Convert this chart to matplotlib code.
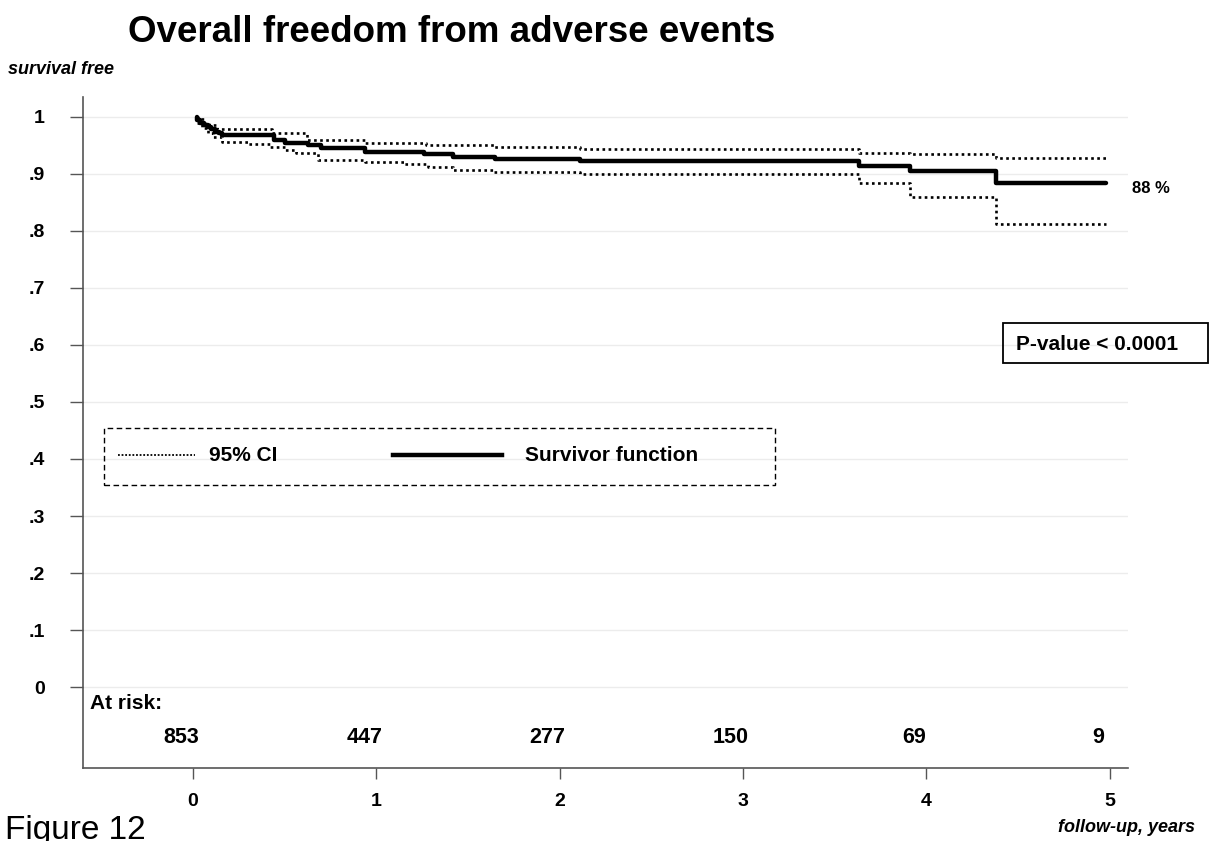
import numpy as np
import matplotlib
matplotlib.use("Agg")
import matplotlib.pyplot as plt
from matplotlib.patches import Rectangle

plt.rcParams['font.family'] = ['Liberation Sans', 'DejaVu Sans']

# Kaplan-Meier step data (value holds from each time to the next)
surv_t = [0, 0.02, 0.04, 0.06, 0.08, 0.10, 0.12, 0.14, 0.16, 0.44, 0.50,
          0.63, 0.70, 0.94, 1.26, 1.42, 1.65, 2.11, 3.63, 3.91, 4.38]
surv_s = [1.0, 0.995, 0.990, 0.986, 0.982, 0.978, 0.974, 0.971, 0.968, 0.960,
          0.954, 0.950, 0.945, 0.939, 0.935, 0.930, 0.926, 0.923, 0.914,
          0.905, 0.884]

upper_t = [0, 0.03, 0.06, 0.09, 0.13, 0.43, 0.62, 0.94, 1.27, 1.64, 2.11,
           3.63, 3.91, 4.38]
upper_s = [1.0, 0.996, 0.990, 0.985, 0.979, 0.972, 0.960, 0.955, 0.951, 0.947,
           0.943, 0.937, 0.935, 0.928]

lower_t = [0, 0.02, 0.05, 0.08, 0.11, 0.16, 0.30, 0.42, 0.50, 0.56, 0.68,
           0.94, 1.15, 1.28, 1.42, 1.64, 2.11, 3.63, 3.91, 4.38]
lower_s = [1.0, 0.990, 0.980, 0.972, 0.964, 0.956, 0.953, 0.947, 0.942, 0.936,
           0.925, 0.921, 0.918, 0.912, 0.907, 0.904, 0.900, 0.884, 0.860, 0.812]

t_start = 0.02
t_end = 4.98

risk_years = [0, 1, 2, 3, 4, 5]
at_risk = [853, 447, 277, 150, 69, 9]

y_ticks = [0, .1, .2, .3, .4, .5, .6, .7, .8, .9, 1]
y_labels = ['0', '.1', '.2', '.3', '.4', '.5', '.6', '.7', '.8', '.9', '1']


def step_xy(t, s, start, end):
    x = list(t) + [end]
    x[0] = start
    return x, list(s) + [s[-1]]


fig = plt.figure(figsize=(12.11, 8.41), dpi=100)
ax = fig.add_axes([0.0685, 0.0868, 0.863, 0.7979])

for y in y_ticks:
    ax.axhline(y, color='#ececec', lw=1.0, zorder=0)

dots = (0, (1, 1.3))
x, y = step_xy(upper_t, upper_s, t_start, t_end)
ax.step(x, y, where='post', color='black', lw=1.9, ls=dots)
x, y = step_xy(lower_t, lower_s, t_start, t_end)
ax.step(x, y, where='post', color='black', lw=1.9, ls=dots)
x, y = step_xy(surv_t, surv_s, t_start, t_end)
ax.step(x, y, where='post', color='black', lw=3.2, solid_capstyle='round')

ax.text(t_end + 0.14, surv_s[-1] - 0.01, '%d %%' % int(surv_s[-1] * 100),
        fontsize=12, family=['Liberation Sans Narrow', 'Liberation Sans'],
        va='center', ha='left', fontweight='bold')

ax.set_xlim(-0.6, 5.1)
ax.set_ylim(-0.142, 1.035)
ax.set_yticks(y_ticks)
ax.set_yticklabels(y_labels)
ax.set_xticks(risk_years)
ax.tick_params(axis='y', length=9.5, width=1, color='#555555', pad=18,
               labelsize=14)
ax.tick_params(axis='x', length=8, width=1, color='#555555', pad=10,
               labelsize=14)
for lab in ax.get_yticklabels() + ax.get_xticklabels():
    lab.set_fontweight('bold')

for side in ['top', 'right']:
    ax.spines[side].set_visible(False)
for side in ['left', 'bottom']:
    ax.spines[side].set_color('#555555')
    ax.spines[side].set_linewidth(1.2)

# numbers at risk
ax.text(-0.56, -0.028, 'At risk:', fontsize=15, fontweight='bold',
        ha='left', va='center')
for yr, n in zip(risk_years, at_risk):
    ax.text(yr - 0.065, -0.089, str(n), fontsize=15.5, fontweight='bold',
            ha='center', va='center')

# legend box
ax.add_patch(Rectangle((0.020, 0.422), 0.642, 0.085, transform=ax.transAxes,
                       fill=False, ec='black', lw=1.0, ls=(0, (4, 2.5))))
ax.plot([0.0335, 0.107], [0.466, 0.466], transform=ax.transAxes,
        color='black', lw=1.3, ls=(0, (1, 1)))
ax.text(0.121, 0.466, '95% CI', transform=ax.transAxes, fontsize=15,
        fontweight='bold', va='center', ha='left')
ax.plot([0.297, 0.401], [0.466, 0.466], transform=ax.transAxes,
        color='black', lw=3.2)
ax.text(0.423, 0.466, 'Survivor function', transform=ax.transAxes,
        fontsize=15, fontweight='bold', va='center', ha='left')

# p-value box
fig.add_artist(Rectangle((1003 / 1211, 1 - 363 / 841), 205 / 1211, 40 / 841,
                         transform=fig.transFigure, fill=False, ec='black',
                         lw=1.3))
fig.text(1016 / 1211, 1 - 344 / 841, 'P-value < 0.0001', fontsize=15,
         fontweight='bold', va='center', ha='left')

fig.text(0.373, 1 - 33 / 841, 'Overall freedom from adverse events',
         fontsize=26.5, fontweight='bold', ha='center', va='center')
fig.text(8 / 1211, 1 - 70 / 841, 'survival free', fontsize=13,
         fontweight='bold', style='italic', ha='left', va='center')
fig.text(1195 / 1211, 1 - 828 / 841, 'follow-up, years', fontsize=13,
         fontweight='bold', style='italic', ha='right', va='center')
fig.text(5 / 1211, 1 - 815 / 841, 'Figure 12', fontsize=24,
         ha='left', va='top')

fig.savefig('out.png', dpi=100)
